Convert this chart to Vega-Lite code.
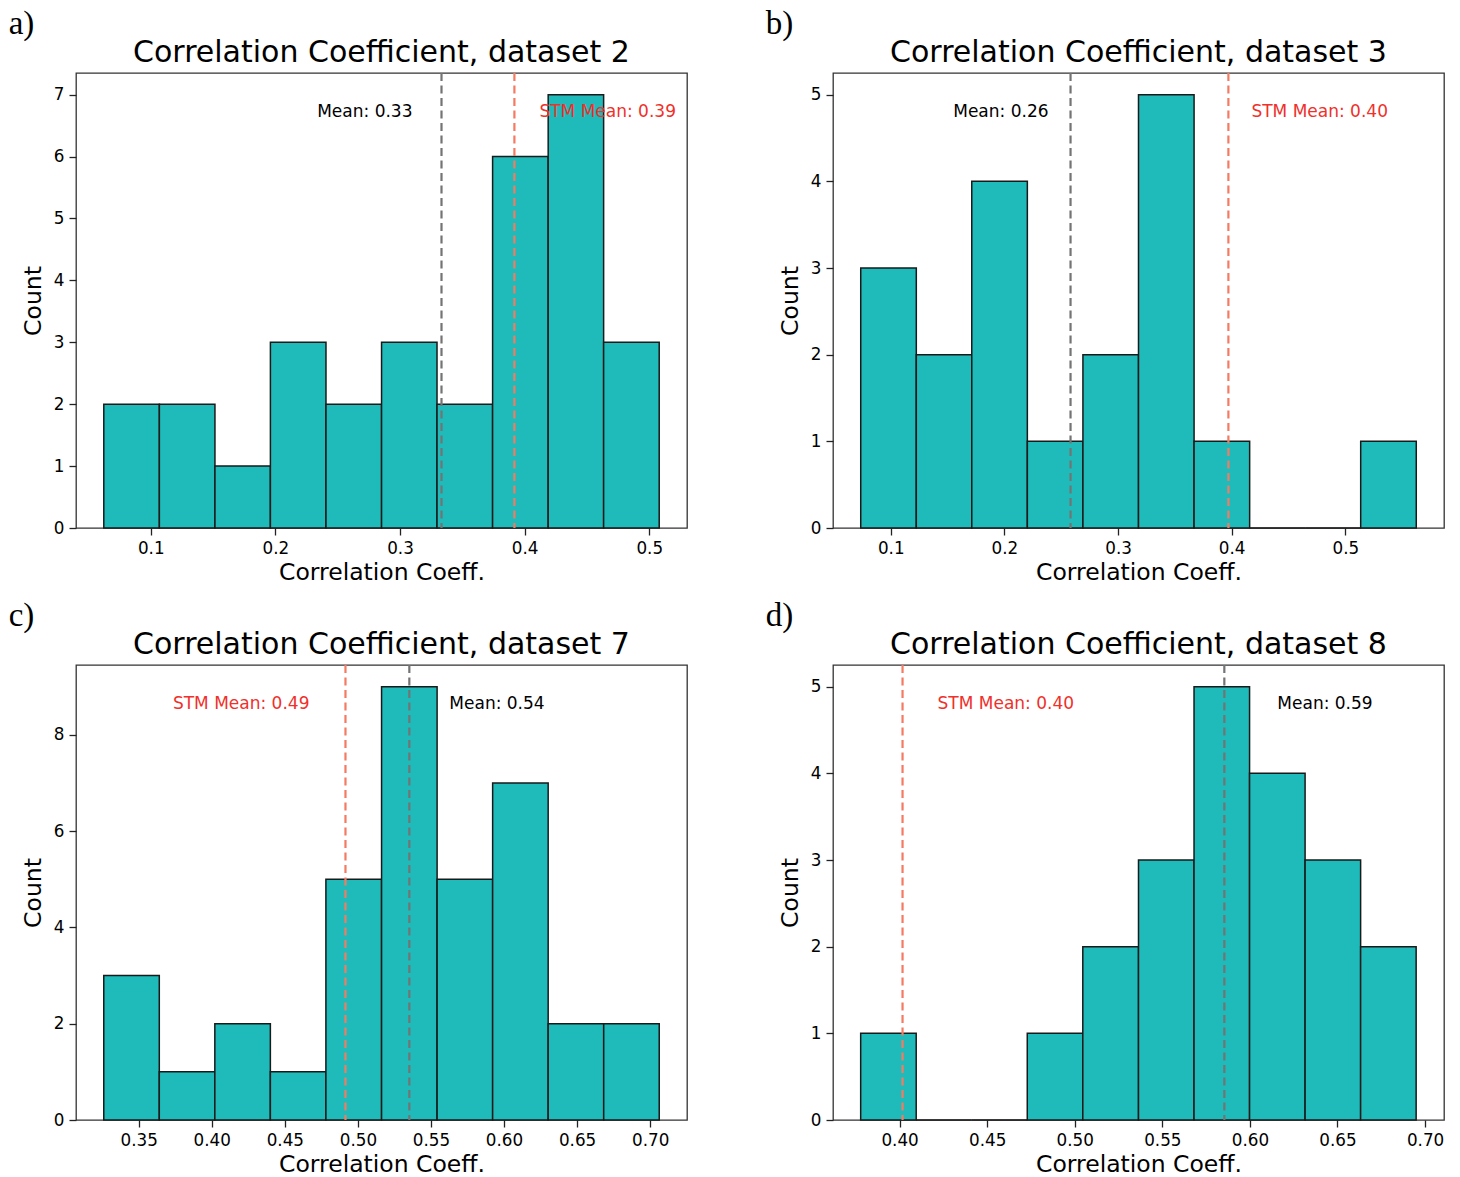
{
  "$schema": "https://vega.github.io/schema/vega-lite/v6.json",
  "background": "white",
  "padding": {"left": 8, "top": 8, "right": 5, "bottom": 2},
  "config": {
    "view": {"stroke": "#333333", "strokeWidth": 1.3},
    "axis": {"grid": false, "domain": false, "tickColor": "#222222", "tickSize": 7, "tickWidth": 1.3, "labelFont": "DejaVu Sans", "labelFontSize": 16.8, "labelColor": "#000000", "labelPadding": 5, "titleFont": "DejaVu Sans", "titleFontSize": 23.5, "titleFontWeight": "normal", "titleColor": "#000000"},
    "axisX": {"titlePadding": 4},
    "axisY": {"titlePadding": 8},
    "title": {"font": "DejaVu Sans", "fontSize": 30, "fontWeight": "normal", "color": "#000000"}
  },
  "spacing": 15,
  "vconcat": [
    {
      "spacing": 77,
      "hconcat": [
        {
          "title": {"text": "a)", "anchor": "start", "font": "Liberation Serif", "fontSize": 33, "dx": -12, "dy": 4, "offset": 0},
          "vconcat": [
            {
              "width": 611, "height": 455,
              "title": {"text": "Correlation Coefficient, dataset 2", "offset": 4},
              "layer": [
                {
                  "data": {"values": [
                    {"start": 0.0623, "end": 0.1069, "count": 2},
                    {"start": 0.1069, "end": 0.1515, "count": 2},
                    {"start": 0.1515, "end": 0.1960, "count": 1},
                    {"start": 0.1960, "end": 0.2406, "count": 3},
                    {"start": 0.2406, "end": 0.2852, "count": 2},
                    {"start": 0.2852, "end": 0.3297, "count": 3},
                    {"start": 0.3297, "end": 0.3743, "count": 2},
                    {"start": 0.3743, "end": 0.4189, "count": 6},
                    {"start": 0.4189, "end": 0.4634, "count": 7},
                    {"start": 0.4634, "end": 0.5080, "count": 3}
                  ]},
                  "mark": {"type": "bar", "fill": "#1ebbba", "stroke": "#1a1a1a", "strokeWidth": 1.5},
                  "encoding": {
                    "x": {"field": "start", "type": "quantitative", "scale": {"domain": [0.04, 0.5303], "nice": false, "zero": false}, "axis": {"values": [0.1, 0.2, 0.3, 0.4, 0.5], "format": ".1f", "title": "Correlation Coeff."}},
                    "x2": {"field": "end"},
                    "y": {"field": "count", "type": "quantitative", "scale": {"domain": [0, 7.35], "nice": false}, "axis": {"values": [0, 1, 2, 3, 4, 5, 6, 7], "format": "d", "title": "Count"}},
                    "y2": {"datum": 0}
                  }
                },
                {
                  "data": {"values": [{"kind": "Mean", "value": 0.3333, "label": "Mean: 0.33", "ty": 6.72}, {"kind": "STM", "value": 0.3918, "label": "STM Mean: 0.39", "ty": 6.72}]},
                  "layer": [
                    {"transform": [{"filter": "datum.kind === 'Mean'"}], "mark": {"type": "rule", "color": "#747474", "strokeWidth": 2.2, "strokeDash": [8, 4.5]}, "encoding": {"x": {"field": "value", "type": "quantitative"}}},
                    {"transform": [{"filter": "datum.kind === 'STM'"}], "mark": {"type": "rule", "color": "#f47a62", "strokeWidth": 2.2, "strokeDash": [8, 4.5]}, "encoding": {"x": {"field": "value", "type": "quantitative"}}},
                    {"transform": [{"filter": "datum.kind === 'Mean'"}], "mark": {"type": "text", "align": "right", "baseline": "middle", "dx": -29, "font": "DejaVu Sans", "fontSize": 17, "color": "#000000"}, "encoding": {"x": {"field": "value", "type": "quantitative"}, "y": {"field": "ty", "type": "quantitative"}, "text": {"field": "label"}}},
                    {"transform": [{"filter": "datum.kind === 'STM'"}], "mark": {"type": "text", "align": "left", "baseline": "middle", "dx": 25, "font": "DejaVu Sans", "fontSize": 17, "color": "#f0302a"}, "encoding": {"x": {"field": "value", "type": "quantitative"}, "y": {"field": "ty", "type": "quantitative"}, "text": {"field": "label"}}}
                  ]
                }
              ]
            }
          ]
        },
        {
          "title": {"text": "b)", "anchor": "start", "font": "Liberation Serif", "fontSize": 33, "dx": -12, "dy": 4, "offset": 0},
          "vconcat": [
            {
              "width": 611, "height": 455,
              "title": {"text": "Correlation Coefficient, dataset 3", "offset": 4},
              "layer": [
                {
                  "data": {"values": [
                    {"start": 0.0736, "end": 0.1225, "count": 3},
                    {"start": 0.1225, "end": 0.1713, "count": 2},
                    {"start": 0.1713, "end": 0.2202, "count": 4},
                    {"start": 0.2202, "end": 0.2691, "count": 1},
                    {"start": 0.2691, "end": 0.3180, "count": 2},
                    {"start": 0.3180, "end": 0.3669, "count": 5},
                    {"start": 0.3669, "end": 0.4158, "count": 1},
                    {"start": 0.4158, "end": 0.4646, "count": 0},
                    {"start": 0.4646, "end": 0.5135, "count": 0},
                    {"start": 0.5135, "end": 0.5624, "count": 1}
                  ]},
                  "mark": {"type": "bar", "fill": "#1ebbba", "stroke": "#1a1a1a", "strokeWidth": 1.5},
                  "encoding": {
                    "x": {"field": "start", "type": "quantitative", "scale": {"domain": [0.0492, 0.5868], "nice": false, "zero": false}, "axis": {"values": [0.1, 0.2, 0.3, 0.4, 0.5], "format": ".1f", "title": "Correlation Coeff."}},
                    "x2": {"field": "end"},
                    "y": {"field": "count", "type": "quantitative", "scale": {"domain": [0, 5.25], "nice": false}, "axis": {"values": [0, 1, 2, 3, 4, 5], "format": "d", "title": "Count"}},
                    "y2": {"datum": 0}
                  }
                },
                {
                  "data": {"values": [{"kind": "Mean", "value": 0.2582, "label": "Mean: 0.26", "ty": 4.8}, {"kind": "STM", "value": 0.3971, "label": "STM Mean: 0.40", "ty": 4.8}]},
                  "layer": [
                    {"transform": [{"filter": "datum.kind === 'Mean'"}], "mark": {"type": "rule", "color": "#747474", "strokeWidth": 2.2, "strokeDash": [8, 4.5]}, "encoding": {"x": {"field": "value", "type": "quantitative"}}},
                    {"transform": [{"filter": "datum.kind === 'STM'"}], "mark": {"type": "rule", "color": "#f47a62", "strokeWidth": 2.2, "strokeDash": [8, 4.5]}, "encoding": {"x": {"field": "value", "type": "quantitative"}}},
                    {"transform": [{"filter": "datum.kind === 'Mean'"}], "mark": {"type": "text", "align": "right", "baseline": "middle", "dx": -22, "font": "DejaVu Sans", "fontSize": 17, "color": "#000000"}, "encoding": {"x": {"field": "value", "type": "quantitative"}, "y": {"field": "ty", "type": "quantitative"}, "text": {"field": "label"}}},
                    {"transform": [{"filter": "datum.kind === 'STM'"}], "mark": {"type": "text", "align": "left", "baseline": "middle", "dx": 23, "font": "DejaVu Sans", "fontSize": 17, "color": "#f0302a"}, "encoding": {"x": {"field": "value", "type": "quantitative"}, "y": {"field": "ty", "type": "quantitative"}, "text": {"field": "label"}}}
                  ]
                }
              ]
            }
          ]
        }
      ]
    },
    {
      "spacing": 77,
      "hconcat": [
        {
          "title": {"text": "c)", "anchor": "start", "font": "Liberation Serif", "fontSize": 33, "dx": -12, "dy": 4, "offset": 0},
          "vconcat": [
            {
              "width": 611, "height": 455,
              "title": {"text": "Correlation Coefficient, dataset 7", "offset": 4},
              "layer": [
                {
                  "data": {"values": [
                    {"start": 0.3261, "end": 0.3641, "count": 3},
                    {"start": 0.3641, "end": 0.4021, "count": 1},
                    {"start": 0.4021, "end": 0.4401, "count": 2},
                    {"start": 0.4401, "end": 0.4781, "count": 1},
                    {"start": 0.4781, "end": 0.5162, "count": 5},
                    {"start": 0.5162, "end": 0.5542, "count": 9},
                    {"start": 0.5542, "end": 0.5922, "count": 5},
                    {"start": 0.5922, "end": 0.6302, "count": 7},
                    {"start": 0.6302, "end": 0.6682, "count": 2},
                    {"start": 0.6682, "end": 0.7062, "count": 2}
                  ]},
                  "mark": {"type": "bar", "fill": "#1ebbba", "stroke": "#1a1a1a", "strokeWidth": 1.5},
                  "encoding": {
                    "x": {"field": "start", "type": "quantitative", "scale": {"domain": [0.3071, 0.7252], "nice": false, "zero": false}, "axis": {"values": [0.35, 0.4, 0.45, 0.5, 0.55, 0.6, 0.65, 0.7], "format": ".2f", "title": "Correlation Coeff."}},
                    "x2": {"field": "end"},
                    "y": {"field": "count", "type": "quantitative", "scale": {"domain": [0, 9.45], "nice": false}, "axis": {"values": [0, 2, 4, 6, 8], "format": "d", "title": "Count"}},
                    "y2": {"datum": 0}
                  }
                },
                {
                  "data": {"values": [{"kind": "Mean", "value": 0.5352, "label": "Mean: 0.54", "ty": 8.64}, {"kind": "STM", "value": 0.4915, "label": "STM Mean: 0.49", "ty": 8.64}]},
                  "layer": [
                    {"transform": [{"filter": "datum.kind === 'Mean'"}], "mark": {"type": "rule", "color": "#747474", "strokeWidth": 2.2, "strokeDash": [8, 4.5]}, "encoding": {"x": {"field": "value", "type": "quantitative"}}},
                    {"transform": [{"filter": "datum.kind === 'STM'"}], "mark": {"type": "rule", "color": "#f47a62", "strokeWidth": 2.2, "strokeDash": [8, 4.5]}, "encoding": {"x": {"field": "value", "type": "quantitative"}}},
                    {"transform": [{"filter": "datum.kind === 'Mean'"}], "mark": {"type": "text", "align": "left", "baseline": "middle", "dx": 40, "font": "DejaVu Sans", "fontSize": 17, "color": "#000000"}, "encoding": {"x": {"field": "value", "type": "quantitative"}, "y": {"field": "ty", "type": "quantitative"}, "text": {"field": "label"}}},
                    {"transform": [{"filter": "datum.kind === 'STM'"}], "mark": {"type": "text", "align": "right", "baseline": "middle", "dx": -36, "font": "DejaVu Sans", "fontSize": 17, "color": "#f0302a"}, "encoding": {"x": {"field": "value", "type": "quantitative"}, "y": {"field": "ty", "type": "quantitative"}, "text": {"field": "label"}}}
                  ]
                }
              ]
            }
          ]
        },
        {
          "title": {"text": "d)", "anchor": "start", "font": "Liberation Serif", "fontSize": 33, "dx": -12, "dy": 4, "offset": 0},
          "vconcat": [
            {
              "width": 611, "height": 455,
              "title": {"text": "Correlation Coefficient, dataset 8", "offset": 4},
              "layer": [
                {
                  "data": {"values": [
                    {"start": 0.3778, "end": 0.4095, "count": 1},
                    {"start": 0.4095, "end": 0.4412, "count": 0},
                    {"start": 0.4412, "end": 0.4729, "count": 0},
                    {"start": 0.4729, "end": 0.5046, "count": 1},
                    {"start": 0.5046, "end": 0.5364, "count": 2},
                    {"start": 0.5364, "end": 0.5681, "count": 3},
                    {"start": 0.5681, "end": 0.5998, "count": 5},
                    {"start": 0.5998, "end": 0.6315, "count": 4},
                    {"start": 0.6315, "end": 0.6632, "count": 3},
                    {"start": 0.6632, "end": 0.6949, "count": 2}
                  ]},
                  "mark": {"type": "bar", "fill": "#1ebbba", "stroke": "#1a1a1a", "strokeWidth": 1.5},
                  "encoding": {
                    "x": {"field": "start", "type": "quantitative", "scale": {"domain": [0.362, 0.7108], "nice": false, "zero": false}, "axis": {"values": [0.4, 0.45, 0.5, 0.55, 0.6, 0.65, 0.7], "format": ".2f", "title": "Correlation Coeff."}},
                    "x2": {"field": "end"},
                    "y": {"field": "count", "type": "quantitative", "scale": {"domain": [0, 5.25], "nice": false}, "axis": {"values": [0, 1, 2, 3, 4, 5], "format": "d", "title": "Count"}},
                    "y2": {"datum": 0}
                  }
                },
                {
                  "data": {"values": [{"kind": "Mean", "value": 0.5854, "label": "Mean: 0.59", "ty": 4.8}, {"kind": "STM", "value": 0.4017, "label": "STM Mean: 0.40", "ty": 4.8}]},
                  "layer": [
                    {"transform": [{"filter": "datum.kind === 'Mean'"}], "mark": {"type": "rule", "color": "#747474", "strokeWidth": 2.2, "strokeDash": [8, 4.5]}, "encoding": {"x": {"field": "value", "type": "quantitative"}}},
                    {"transform": [{"filter": "datum.kind === 'STM'"}], "mark": {"type": "rule", "color": "#f47a62", "strokeWidth": 2.2, "strokeDash": [8, 4.5]}, "encoding": {"x": {"field": "value", "type": "quantitative"}}},
                    {"transform": [{"filter": "datum.kind === 'Mean'"}], "mark": {"type": "text", "align": "left", "baseline": "middle", "dx": 53, "font": "DejaVu Sans", "fontSize": 17, "color": "#000000"}, "encoding": {"x": {"field": "value", "type": "quantitative"}, "y": {"field": "ty", "type": "quantitative"}, "text": {"field": "label"}}},
                    {"transform": [{"filter": "datum.kind === 'STM'"}], "mark": {"type": "text", "align": "left", "baseline": "middle", "dx": 35, "font": "DejaVu Sans", "fontSize": 17, "color": "#f0302a"}, "encoding": {"x": {"field": "value", "type": "quantitative"}, "y": {"field": "ty", "type": "quantitative"}, "text": {"field": "label"}}}
                  ]
                }
              ]
            }
          ]
        }
      ]
    }
  ]
}
